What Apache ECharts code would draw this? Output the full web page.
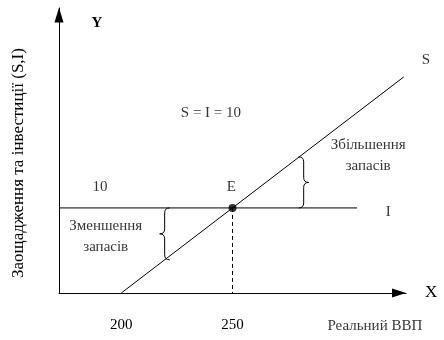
<!DOCTYPE html>
<html>
<head>
<meta charset="utf-8">
<script src="https://cdn.jsdelivr.net/npm/echarts@6/dist/echarts.min.js"></script>
<style>
  html, body { margin: 0; padding: 0; background: #fff; }
  #chart { width: 444px; height: 340px; }
</style>
</head>
<body>
<div id="chart"></div>
<script>
// дані
var xTicks = [200, 250];
var savingsLine = [[200, 0], [327, 25.4]];   // S
var investLine = [[172, 10], [306, 10]];     // I
var equilibrium = [[250, 10]];               // E
var dropLine = [[250, 10], [250, 0]];
// дужки: x, від, до, напрям
var braces = [[282, 10, 16, 1], [219.5, 3.9, 10, -1]];
// підписи
var notes = [
    [240.3, 21.2, 'S = I = 10'],
    [190.4, 12.4, '10'],
    [249.5, 12.4, 'E'],
    [337, 27.4, 'S'],
    [320, 9.5, 'I'],
    [311, 16.1, 'Збільшення\nзапасів'],
    [193, 6.6, 'Зменшення\nзапасів'],
    [314, -3.9, 'Реальний ВВП']
];

var font = 'Liberation Serif';
var dom = document.getElementById('chart');
var myChart = echarts.init(dom);

var option = {
    animation: false,
    textStyle: { fontFamily: font },
    grid: { left: 59, right: 38, top: 8, bottom: 47 },
    xAxis: {
        type: 'value',
        min: 172,
        max: 328,
        name: 'X',
        nameGap: 19,
        nameTextStyle: { fontFamily: font, fontSize: 17, color: '#000' },
        axisLine: {
            lineStyle: { color: '#000', width: 1 },
            symbol: ['none', 'triangle'],
            symbolSize: [9, 14],
            symbolOffset: [0, -7]
        },
        axisTick: { show: false },
        splitLine: { show: false },
        axisLabel: {
            customValues: xTicks,
            margin: 25,
            fontFamily: font,
            fontSize: 15,
            color: '#000'
        }
    },
    yAxis: {
        type: 'value',
        min: 0,
        max: 33.5,
        axisLine: {
            show: true,
            lineStyle: { color: '#000', width: 1 },
            symbol: ['none', 'triangle'],
            symbolSize: [9, 15],
            symbolOffset: [0, -7]
        },
        axisTick: { show: false },
        splitLine: { show: false },
        axisLabel: { show: false }
    },
    graphic: [
        {
            type: 'text',
            x: 97, y: 23,
            style: {
                text: 'Y', fontFamily: font, fontSize: 15, fontWeight: 'bold',
                fill: '#000', align: 'center', verticalAlign: 'middle'
            }
        },
        {
            type: 'text',
            x: 19, y: 163,
            rotation: Math.PI / 2,
            style: {
                text: 'Заощадження та інвестиції (S,I)',
                fontFamily: font,
                fontSize: 17,
                fill: '#000',
                align: 'center',
                verticalAlign: 'middle'
            }
        }
    ],
    series: [
        {
            type: 'line',
            data: savingsLine,
            symbol: 'none',
            clip: false,
            lineStyle: { color: '#000', width: 1 }
        },
        {
            type: 'line',
            data: investLine,
            symbol: 'none',
            lineStyle: { color: '#000', width: 1 }
        },
        {
            type: 'line',
            data: dropLine,
            symbol: 'none',
            lineStyle: { color: '#000', width: 1, type: [4, 3] }
        },
        {
            type: 'scatter',
            data: equilibrium,
            symbol: 'circle',
            symbolSize: 8,
            itemStyle: { color: '#000' },
            z: 5
        },
        {
            type: 'custom',
            data: braces,
            clip: false,
            renderItem: function (params, api) {
                var p0 = api.coord([api.value(0), api.value(1)]);
                var p1 = api.coord([api.value(0), api.value(2)]);
                var d = api.value(3);
                var x = p0[0], yb = p0[1], yt = p1[1];
                var ym = (yt + yb) / 2, w = 5;
                var path = 'M' + (x - w * d) + ',' + yt +
                    ' Q' + x + ',' + yt + ' ' + x + ',' + (yt + w) +
                    ' L' + x + ',' + (ym - w) +
                    ' Q' + x + ',' + ym + ' ' + (x + w * d) + ',' + ym +
                    ' Q' + x + ',' + ym + ' ' + x + ',' + (ym + w) +
                    ' L' + x + ',' + (yb - w) +
                    ' Q' + x + ',' + yb + ' ' + (x - w * d) + ',' + yb;
                return {
                    type: 'path',
                    shape: { pathData: path },
                    style: { fill: 'none', stroke: '#000', lineWidth: 1 }
                };
            }
        },
        {
            type: 'scatter',
            data: notes,
            symbolSize: 0,
            clip: false,
            silent: true,
            label: {
                show: true,
                position: 'inside',
                formatter: function (p) { return p.value[2]; },
                fontFamily: font,
                fontSize: 15,
                lineHeight: 21,
                color: '#000'
            }
        }
    ]
};
myChart.setOption(option, true);
</script>
</body>
</html>
